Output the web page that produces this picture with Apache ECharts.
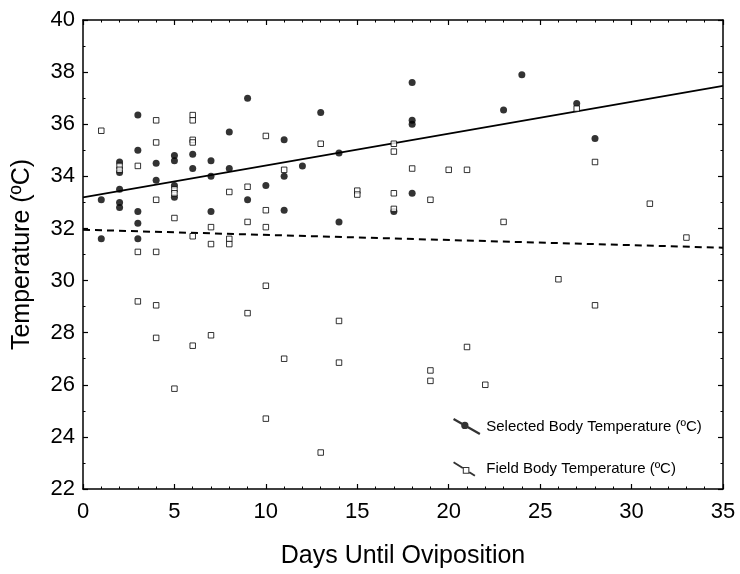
<!DOCTYPE html>
<html><head><meta charset="utf-8">
<script src="https://cdn.jsdelivr.net/npm/echarts@6/dist/echarts.min.js"></script>
<style>html,body{margin:0;padding:0;background:#fff}#c{width:740px;height:574px}</style>
</head><body><div id="c"></div>
<script>
// ---- axis settings / tick labels ----
const xMin = 0, xMax = 35, xStep = 5;
const yMin = 22, yMax = 40, yStep = 2;
const xAxisTitle = 'Days Until Oviposition';
const yAxisTitle = 'Temperature (ºC)';
const selectedName = 'Selected Body Temperature (ºC)';
const fieldName = 'Field Body Temperature (ºC)';

// ---- Selected body temperature (filled circles) ----
const selectedDays = [1,1,2,2,2,2,2,3,3,3,3,3,4,4,5,5,5,5,6,6,7,7,7,8,8,9,9,10,11,11,11,12,13,14,14,17,18,18,18,18,23,24,27,28];
const selectedTemps = [33.1,31.6,34.55,34.15,33.5,33.0,32.8,36.35,35.0,32.65,32.2,31.6,34.5,33.85,34.8,34.6,33.65,33.2,34.85,34.3,34.6,34.0,32.65,35.7,34.3,37.0,33.1,33.65,35.4,34.0,32.7,34.4,36.45,34.9,32.25,32.65,37.6,36.15,36.0,33.35,36.55,37.9,36.8,35.45];

// ---- Field body temperature (open squares) ----
const fieldDays = [1,2,2,3,3,3,4,4,4,4,4,4,5,5,5,5,6,6,6,6,6,6,7,7,7,8,8,8,9,9,9,10,10,10,10,10,11,11,13,13,14,14,15,15,17,17,17,17,18,19,19,19,20,21,21,22,23,26,27,28,28,31,33];
const fieldTemps = [35.75,34.4,34.25,34.4,31.1,29.2,36.15,35.3,33.1,31.1,29.05,27.8,33.5,33.35,32.4,25.85,36.35,36.15,35.4,35.3,31.7,27.5,32.05,31.4,27.9,33.4,31.6,31.4,33.6,32.25,28.75,35.55,32.7,32.05,29.8,24.7,34.25,27.0,35.25,23.4,28.45,26.85,33.45,33.3,35.25,34.95,33.35,32.75,34.3,33.1,26.55,26.15,34.25,34.25,27.45,26.0,32.25,30.05,36.6,34.55,29.05,32.95,31.65];

// ---- fitted lines (end points) ----
const selectedFitDays = [0, 35];
const selectedFitTemps = [33.19, 37.47];
const fieldFitDays = [0, 35];
const fieldFitTemps = [31.95, 31.26];

const FONT = '"Liberation Sans", Arial, Helvetica, sans-serif';
const pairs = (xs, ys) => xs.map((x, i) => [x, ys[i]]);

const lineStyle = {color: '#000', width: 1.5};
function xAx(pos, labels) {
  return {
    type: 'value', min: xMin, max: xMax, interval: xStep, position: pos,
    axisLine: {show: true, onZero: false, lineStyle},
    axisTick: {show: true, inside: true, length: 5, lineStyle: {color: '#000', width: 1.2}},
    minorTick: {show: true, splitNumber: 5, length: 2.5, lineStyle: {color: '#000', width: 1}},
    splitLine: {show: false}, minorSplitLine: {show: false},
    axisLabel: {show: labels, color: '#000', fontSize: 22, fontFamily: FONT, margin: 12, showMinLabel: true, showMaxLabel: true},
    name: labels ? xAxisTitle : '', nameLocation: 'middle', nameGap: 55,
    nameTextStyle: {color: '#000', fontSize: 25, fontFamily: FONT}
  };
}
function yAx(pos, labels) {
  return {
    type: 'value', min: yMin, max: yMax, interval: yStep, position: pos,
    axisLine: {show: true, onZero: false, lineStyle},
    axisTick: {show: true, inside: true, length: 5, lineStyle: {color: '#000', width: 1.2}},
    minorTick: {show: true, splitNumber: 2, length: 2.5, lineStyle: {color: '#000', width: 1}},
    splitLine: {show: false}, minorSplitLine: {show: false},
    axisLabel: {show: labels, color: '#000', fontSize: 22, fontFamily: FONT, margin: 8, showMinLabel: true, showMaxLabel: true},
    name: labels ? yAxisTitle : '', nameLocation: 'middle', nameGap: 48, nameRotate: 90,
    nameTextStyle: {color: '#000', fontSize: 25, fontFamily: FONT}
  };
}

const iconSelected = 'path://M0.6,-1.04 L28.6,14.96 L27.4,17.04 L-0.6,1.04 Z M15.9,6.86 A3.9,3.9 0 1,1 8.1,6.86 A3.9,3.9 0 1,1 15.9,6.86 Z';
const iconField = 'path://M-0.6,-1.04 M28.6,17.04 M0.54,0.45 L10.34,6.66 L9.26,8.36 L-0.54,2.15 Z M17.34,11.1 L23.24,14.85 L22.16,16.55 L16.26,12.8 Z M9.8,6.5 L16.8,6.5 L16.8,13.5 L9.8,13.5 Z M10.9,7.6 L10.9,12.4 L15.7,12.4 L15.7,7.6 Z';

const chart = echarts.init(document.getElementById('c'), null, {renderer: 'canvas'});
chart.setOption({
  animation: false,
  backgroundColor: '#fff',
  grid: {left: 83, right: 17, top: 20, bottom: 82.5, containLabel: false},
  xAxis: [xAx('bottom', true), xAx('top', false)],
  yAxis: [yAx('left', true), yAx('right', false)],
  legend: {
    orient: 'vertical', left: 448, top: 413, itemWidth: 29, itemHeight: 17, itemGap: 25,
    selectedMode: false,
    textStyle: {color: '#000', fontSize: 15, fontFamily: FONT, lineHeight: 17},
    data: [
      {name: selectedName, icon: iconSelected, itemStyle: {color: '#000', borderWidth: 0}},
      {name: fieldName, icon: iconField, itemStyle: {color: '#000', borderWidth: 0}}
    ]
  },
  series: [
    {type: 'line', name: 'selectedFit', xAxisIndex: 0, yAxisIndex: 0, data: pairs(selectedFitDays, selectedFitTemps),
     symbol: 'none', silent: true, lineStyle: {color: '#000', width: 1.8}, z: 2},
    {type: 'line', name: 'fieldFit', xAxisIndex: 0, yAxisIndex: 0, data: pairs(fieldFitDays, fieldFitTemps),
     symbol: 'none', silent: true, lineStyle: {color: '#000', width: 2, type: [7, 5]}, z: 2},
    {type: 'scatter', name: selectedName, xAxisIndex: 0, yAxisIndex: 0, data: pairs(selectedDays, selectedTemps),
     symbol: 'circle', symbolSize: 7, itemStyle: {color: '#000'}, z: 3},
    {type: 'scatter', name: fieldName, xAxisIndex: 0, yAxisIndex: 0, data: pairs(fieldDays, fieldTemps),
     symbol: 'rect', symbolSize: 5.5, itemStyle: {color: '#fff', borderColor: '#000', borderWidth: 1}, z: 4}
  ]
});
</script>
</body></html>
